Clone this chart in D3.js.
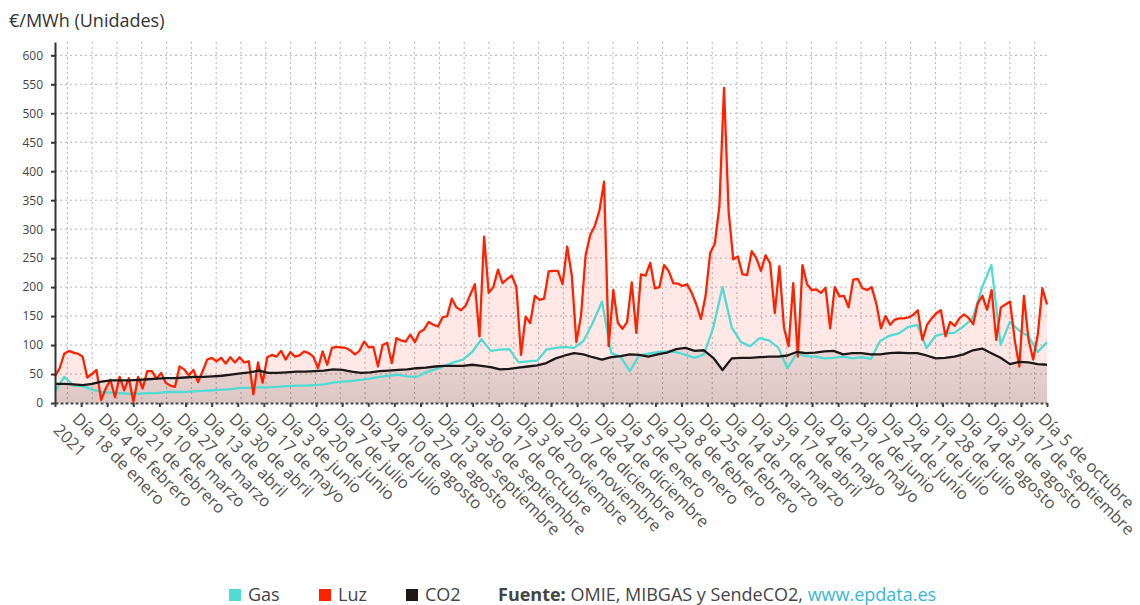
<!DOCTYPE html>
<html>
<head>
<meta charset="utf-8">
<script src="https://cdn.jsdelivr.net/npm/d3@7"></script>
<style>
  body { margin: 0; background: #fff; font-family: "Open Sans", sans-serif; }
</style>
</head>
<body>
<div id="chart"></div>
<script>
// x tick labels, one every 17 days of the series
var tickLabels = ["2021", "Día 18 de enero", "Día 4 de febrero", "Día 21 de febrero", "Día 10 de marzo",
  "Día 27 de marzo", "Día 13 de abril", "Día 30 de abril", "Día 17 de mayo", "Día 3 de junio",
  "Día 20 de junio", "Día 7 de julio", "Día 24 de julio", "Día 10 de agosto", "Día 27 de agosto",
  "Día 13 de septiembre", "Día 30 de septiembre", "Día 17 de octubre", "Día 3 de noviembre",
  "Día 20 de noviembre", "Día 7 de diciembre", "Día 24 de diciembre", "Día 5 de enero",
  "Día 22 de enero", "Día 8 de febrero", "Día 25 de febrero", "Día 14 de marzo", "Día 31 de marzo",
  "Día 17 de abril", "Día 4 de mayo", "Día 21 de mayo", "Día 7 de junio", "Día 24 de junio",
  "Día 11 de julio", "Día 28 de julio", "Día 14 de agosto", "Día 31 de agosto",
  "Día 17 de septiembre", "Día 5 de octubre"];
var lastDay = 646;   // days on the axis (0 .. 646)
var tickStep = 17;

// Luz (€/MWh), read every ~3 days
var luz = [46,60,85,90,87,85,80,44,50,57,
  5,25,40,10,45,22,43,2,45,25,
  55,55,42,52,35,30,28,63,58,48,
  57,36,55,75,78,72,78,68,79,70,
  79,70,72,15,70,35,79,83,80,90,
  75,88,80,82,89,86,80,60,89,66,
  95,97,96,95,91,84,90,106,96,97,
  63,100,104,69,112,108,106,118,105,122,
  127,140,135,132,148,150,180,165,160,168,
  187,205,115,287,190,200,230,207,214,220,
  200,83,149,138,185,178,180,227,228,228,
  205,270,221,105,150,255,290,306,332,382,
  98,195,138,128,140,208,121,222,220,242,
  198,200,238,228,207,206,202,205,190,170,
  145,185,259,275,340,544,330,248,253,222,
  221,262,250,228,255,241,155,236,130,98,
  207,80,238,205,195,196,190,199,129,200,
  184,185,165,213,214,198,195,200,172,129,
  150,135,144,146,146,148,152,160,109,135,
  146,155,160,115,140,133,146,153,147,136,
  172,185,161,195,109,165,170,175,109,63,
  185,109,75,118,198,170];

// Gas (€/MWh), read every ~6 days
var gas = [20,45,30,29,23,19,18,17,16,16,
  17,17,19,19,19,20,21,22,23,24,
  26,26,27,27,28,29,30,30,31,32,
  35,37,38,40,42,45,47,49,46,45,
  53,58,64,70,75,88,110,90,92,93,
  70,72,73,92,95,97,95,107,138,175,
  86,80,55,82,85,88,89,88,83,78,
  84,130,200,130,105,98,112,108,96,60,
  85,81,80,77,78,80,77,79,76,107,
  116,120,131,135,95,116,120,121,132,147,
  200,238,100,140,125,115,88,105];

// CO2 (€/t), read every ~6 days
var co2 = [33,33,32,31,33,37,39,39,39,40,
  41,42,43,43,44,45,45,46,47,49,
  51,53,56,52,52,53,54,54,55,56,
  58,57,54,52,53,55,56,57,58,60,
  61,63,64,64,64,66,64,62,58,59,
  61,63,65,69,77,82,86,84,79,75,
  79,81,84,83,80,84,87,93,95,90,
  91,78,57,77,78,78,79,80,80,82,
  88,86,87,89,90,84,86,86,84,84,
  86,87,86,86,82,77,78,80,84,91,
  94,86,78,67,71,70,67,66];

var seriesNames = ["Gas", "Luz", "CO2"];
var seriesColors = ["#50dcd3", "#ff2200", "#1c1818"];

var width = 1140, height = 605;
var margin = {top: 42, right: 93, bottom: 202, left: 55};
var w = width - margin.left - margin.right,
    h = height - margin.top - margin.bottom;

var svg = d3.select("#chart").append("svg")
    .attr("width", width)
    .attr("height", height)
    .style("font-family", "'Open Sans', sans-serif");

var x = d3.scaleLinear().domain([0, lastDay]).range([0, w]);
var y = d3.scaleLinear().domain([0, 623]).range([h, 0]);
var gridBands = d3.scaleBand().domain(d3.range(40)).range([0, w]);

// sample k of a series spread evenly over the whole period
function dayOf(k, arr) { return k * lastDay / (arr.length - 1); }

svg.append("text")
    .attr("x", 9)
    .attr("y", 27)
    .style("font-size", "18px")
    .style("fill", "#333")
    .text("€/MWh (Unidades)");

var g = svg.append("g")
    .attr("transform", "translate(" + margin.left + "," + margin.top + ")");

var defs = svg.append("defs");
var grad = defs.append("linearGradient")
    .attr("id", "co2Fill")
    .attr("gradientUnits", "userSpaceOnUse")
    .attr("x1", 0).attr("x2", 0)
    .attr("y1", y(100)).attr("y2", y(0));
grad.append("stop").attr("offset", 0).attr("stop-color", "#2a1a1a").attr("stop-opacity", 0.08);
grad.append("stop").attr("offset", 1).attr("stop-color", "#2a1a1a").attr("stop-opacity", 0.16);

// grid
g.append("g")
    .selectAll("line")
    .data(d3.range(50, 601, 50))
    .enter().append("line")
    .attr("x1", 0).attr("x2", w)
    .attr("y1", d => y(d)).attr("y2", d => y(d))
    .style("stroke", "#b4b4b4")
    .style("stroke-dasharray", "2,3");

g.append("g")
    .selectAll("line")
    .data(gridBands.domain())
    .enter().append("line")
    .attr("x1", d => gridBands(d) + gridBands.bandwidth() / 2)
    .attr("x2", d => gridBands(d) + gridBands.bandwidth() / 2)
    .attr("y1", 0).attr("y2", h)
    .style("stroke", "#b4b4b4")
    .style("stroke-dasharray", "2,3");

function areaFor(arr) {
  return d3.area()
    .x((d, i) => x(dayOf(i, arr)))
    .y0(h)
    .y1(d => y(d))(arr);
}
function lineFor(arr) {
  return d3.line()
    .x((d, i) => x(dayOf(i, arr)))
    .y(d => y(d))(arr);
}

g.append("path")
    .attr("d", areaFor(luz))
    .style("fill", "#ff2200")
    .style("fill-opacity", 0.1);

g.append("path")
    .attr("d", areaFor(co2))
    .style("fill", "url(#co2Fill)");

var lines = [gas, luz, co2];
lines.forEach(function(arr, i) {
  g.append("path")
    .attr("d", lineFor(arr))
    .style("fill", "none")
    .style("stroke", seriesColors[i])
    .style("stroke-width", 2.3)
    .style("stroke-linejoin", "round");
});

// y axis
var yAxis = g.append("g")
    .call(d3.axisLeft(y)
      .tickValues(d3.range(0, 601, 50))
      .tickSize(4)
      .tickSizeOuter(0)
      .tickPadding(8));
yAxis.select(".domain").style("stroke", "#333").style("stroke-width", 2);
yAxis.selectAll(".tick line").style("stroke", "#333").style("stroke-width", 2);
yAxis.selectAll(".tick text")
    .style("font-size", "12px")
    .style("fill", "#444")
    .style("font-family", "'Open Sans', sans-serif");

// x axis
var xAxis = g.append("g")
    .attr("transform", "translate(0," + h + ")")
    .call(d3.axisBottom(x)
      .tickValues(d3.range(0, lastDay + 1, tickStep))
      .tickFormat((d, i) => tickLabels[i])
      .tickSize(4)
      .tickSizeOuter(0));
xAxis.select(".domain")
    .style("stroke", "#444")
    .style("stroke-width", 2)
    .style("stroke-dasharray", "3,2");
xAxis.selectAll(".tick line").style("stroke", "#444").style("stroke-width", 2);
xAxis.selectAll(".tick text")
    .attr("x", 0)
    .attr("y", 0)
    .attr("dy", null)
    .style("text-anchor", "start")
    .style("font-size", "16.5px")
    .style("fill", "#555")
    .style("font-family", "'Open Sans', sans-serif")
    .attr("transform", (d, i) => i === 0 ? "translate(-3,28) rotate(45)" : "translate(-10,17) rotate(45)");

// legend
var legendX = [229, 319, 406];
var legend = svg.append("g")
    .selectAll("g")
    .data(seriesNames)
    .enter().append("g")
    .attr("transform", (d, i) => "translate(" + legendX[i] + ",589)");
legend.append("rect")
    .attr("width", 12)
    .attr("height", 12)
    .style("fill", (d, i) => seriesColors[i]);
legend.append("text")
    .attr("x", 19)
    .attr("y", 11.5)
    .style("font-size", "18px")
    .style("fill", "#444")
    .text(d => d);

var source = svg.append("text")
    .attr("x", 498)
    .attr("y", 600.5)
    .style("font-size", "18px")
    .style("fill", "#444");
source.append("tspan").style("font-weight", "bold").text("Fuente:");
source.append("tspan").text(" OMIE, MIBGAS y SendeCO2, ");
source.append("tspan").style("fill", "#3ab6d4").text("www.epdata.es");
</script>
</body>
</html>
